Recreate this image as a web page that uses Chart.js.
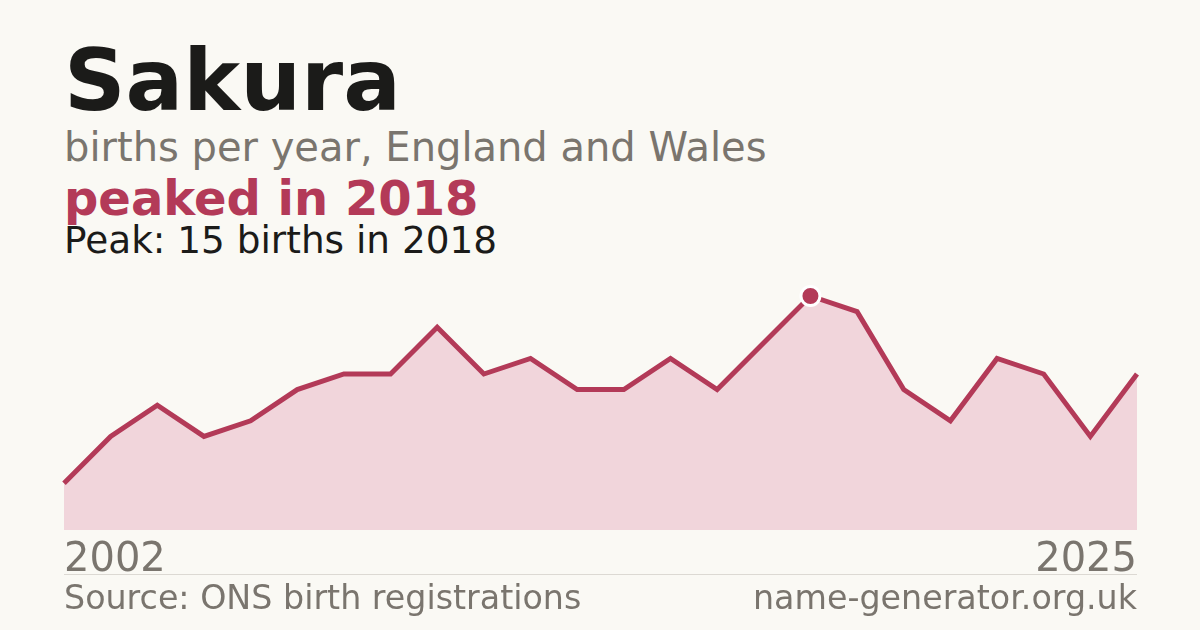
<!DOCTYPE html>
<html lang="en">
<head>
  <meta charset="UTF-8" />
  <title>Sakura births</title>
  <script src="https://cdn.jsdelivr.net/npm/chart.js"></script>
  <style>
    html, body {
      margin: 0;
      padding: 0;
      width: 1200px;
      height: 630px;
      background: #faf9f4;
      font-family: "DejaVu Sans", sans-serif;
      overflow: hidden;
    }
    .t { position: absolute; left: 64px; white-space: nowrap; line-height: 1; }
    #name { top: 38px; font-size: 85.5px; font-weight: bold; color: #1b1b19; }
    #sub { top: 127px; font-size: 40px; color: #7a756e; }
    #peaked { top: 174px; font-size: 48px; font-weight: bold; color: #b33a58; }
    #peak { top: 222px; font-size: 37.4px; color: #1b1b19; }
    #y0 { top: 537px; font-size: 40px; color: #7a756e; }
    #y1 { top: 537px; left: auto; right: 63px; font-size: 40px; color: #7a756e; }
    #rule { position: absolute; left: 64px; width: 1073px; top: 574px; height: 1px; background: #dcd9d3; }
    #src { top: 581px; font-size: 33.3px; color: #7a756e; }
    #site { top: 581px; left: auto; right: 63px; font-size: 33.3px; color: #7a756e; }
    #wrap { position: absolute; left: 54px; top: 276px; width: 1093px; height: 264px; }
  </style>
</head>
<body>

<div class="t" id="name">Sakura</div>
<div class="t" id="sub">births per year, England and Wales</div>
<div class="t" id="peaked">peaked in 2018</div>
<div class="t" id="peak">Peak: 15 births in 2018</div>

<div id="wrap"><canvas id="births"></canvas></div>

<div class="t" id="y0">2002</div>
<div class="t" id="y1">2025</div>
<div id="rule"></div>
<div class="t" id="src">Source: ONS birth registrations</div>
<div class="t" id="site">name-generator.org.uk</div>

<script>
  const years = [2002, 2003, 2004, 2005, 2006, 2007, 2008, 2009, 2010, 2011, 2012, 2013,
                 2014, 2015, 2016, 2017, 2018, 2019, 2020, 2021, 2022, 2023, 2024, 2025];
  const births = [3, 6, 8, 6, 7, 9, 10, 10, 13, 10, 11, 9,
                  9, 11, 9, 12, 15, 14, 9, 7, 11, 10, 6, 10];

  const peakIdx = births.indexOf(Math.max(...births));
  const radii = births.map((v, i) => i === peakIdx ? 9.5 : 0);

  const ctx = document.getElementById("births").getContext("2d");

  new Chart(ctx, {
    type: "line",
    data: {
      labels: years,
      datasets: [{
        data: births,
        borderColor: "#b33a58",
        borderWidth: 5,
        backgroundColor: "#f1d5db",
        fill: "origin",
        tension: 0,
        clip: false,
        pointRadius: radii,
        pointBackgroundColor: "#b33a58",
        pointBorderColor: "#ffffff",
        pointBorderWidth: 3,
        pointHoverRadius: radii
      }]
    },
    options: {
      responsive: true,
      maintainAspectRatio: false,
      animation: false,
      layout: { padding: { left: 10, right: 10, top: 20, bottom: 10 } },
      scales: {
        x: { display: false, offset: false },
        y: { display: false, min: 0, max: 15 }
      },
      plugins: {
        legend: { display: false },
        tooltip: { enabled: false }
      }
    }
  });
</script>

</body>
</html>
